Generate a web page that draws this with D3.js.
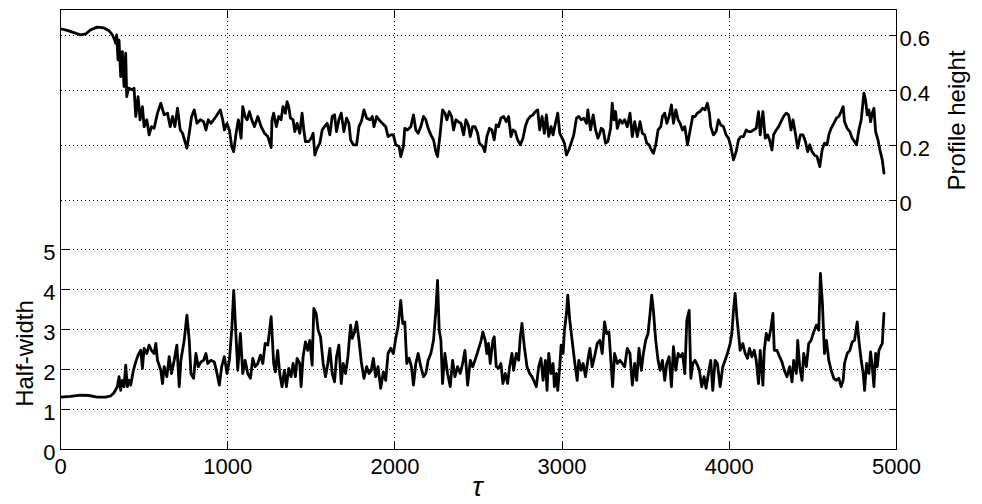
<!DOCTYPE html>
<html><head><meta charset="utf-8">
<script src="https://cdn.jsdelivr.net/npm/d3@7"></script>
<style>
html,body{margin:0;padding:0;background:#fff;}
svg{display:block;}
text{font-family:"Liberation Sans",Arial,Helvetica,sans-serif;fill:#000;}
</style></head><body>
<svg id="chart" width="982" height="504"></svg>
<script>
// ---- data ----
const xTicks = [0, 1000, 2000, 3000, 4000, 5000];
const halfWidthTicks = [0, 1, 2, 3, 4, 5];
const heightTicks = [0, 0.2, 0.4, 0.6];
const xLabel = "τ";
const leftLabel = "Half-width";
const rightLabel = "Profile height";

// [tau, profile height]
const heightSeries = [
[0,.626],[40,.620],[80,.612],[120,.604],[150,.607],[180,.622],[220,.632],[260,.629],[290,.619],[310,.604],[324,.585],[330,.573],[336,.604],[344,.513],[350,.585],[360,.452],[370,.543],[380,.416],[390,.537],[396,.379],[406,.410],[430,.404],[440,.410],[450,.307],[464,.379],[476,.295],[490,.343],[500,.270],[516,.295],[530,.240],[544,.270],[560,.264],[580,.319],[600,.355],[620,.313],[640,.319],[656,.270],[670,.307],[684,.270],[700,.337],[716,.258],[730,.246],[756,.192],[770,.246],[784,.307],[800,.331],[816,.282],[836,.295],[856,.288],[870,.258],[884,.295],[900,.282],[916,.295],[930,.307],[956,.331],[970,.295],[980,.258],[996,.282],[1010,.258],[1024,.198],[1036,.179],[1050,.246],[1064,.295],[1080,.228],[1090,.343],[1104,.307],[1116,.295],[1130,.325],[1144,.295],[1160,.270],[1180,.307],[1200,.270],[1220,.246],[1240,.234],[1260,.194],
[1265,.295],[1275,.319],[1291,.270],[1305,.307],[1319,.295],[1331,.343],[1345,.319],[1355,.361],[1365,.343],[1375,.301],[1391,.295],[1401,.252],[1415,.282],[1431,.246],[1445,.319],[1455,.258],[1465,.216],[1485,.216],[1499,.228],[1511,.246],[1521,.167],[1535,.192],[1551,.210],[1565,.258],[1579,.270],[1595,.282],[1611,.240],[1625,.307],[1639,.313],[1651,.252],[1665,.295],[1679,.319],[1695,.252],[1711,.301],[1725,.282],[1735,.222],[1751,.204],[1771,.204],[1785,.270],[1799,.288],[1815,.331],[1831,.301],[1851,.295],[1865,.307],[1875,.270],[1891,.307],[1905,.295],[1925,.282],[1945,.270],[1959,.234],[1975,.240],[1991,.240],[2005,.204],[2025,.198],[2035,.161],[2051,.198],[2059,.264],[2075,.258],[2095,.270],[2111,.313],[2125,.258],[2139,.246],[2155,.270],[2171,.307],[2185,.295],[2199,.264],[2215,.240],[2231,.222],[2245,.179],[2255,.161],[2271,.246],[2285,.331],[2299,.319],[2311,.295],[2325,.325],[2339,.307],[2351,.258],[2365,.295],[2379,.288],[2395,.282],[2411,.240],[2425,.295],[2439,.276],[2451,.234],[2465,.270],[2479,.270],[2495,.246],[2505,.210],
[2526,.198],[2538,.179],[2550,.234],[2566,.264],[2580,.258],[2594,.222],[2606,.276],[2620,.270],[2634,.301],[2650,.307],[2666,.288],[2680,.307],[2694,.234],[2706,.258],[2720,.252],[2734,.222],[2750,.204],[2766,.228],[2780,.270],[2794,.295],[2810,.307],[2826,.313],[2840,.325],[2854,.331],[2866,.258],[2880,.307],[2894,.246],[2906,.313],[2920,.234],[2934,.270],[2946,.240],[2960,.282],[2974,.319],[2986,.246],[3000,.228],[3014,.210],[3026,.167],[3040,.185],[3054,.210],[3070,.240],[3086,.301],[3100,.307],[3114,.295],[3130,.301],[3146,.282],[3154,.331],[3170,.258],[3186,.313],[3200,.258],[3214,.228],[3226,.246],[3234,.264],[3246,.258],[3260,.210],[3274,.216],[3290,.264],[3300,.355],[3310,.295],[3320,.325],[3330,.264],[3346,.295],[3360,.282],[3374,.295],[3390,.270],[3406,.319],[3420,.234],[3434,.288],[3450,.234],[3466,.288],[3480,.246],[3494,.240],[3506,.210],[3520,.204],[3534,.185],[3546,.173],[3560,.204],[3574,.258],[3590,.270],[3600,.307],[3614,.319],[3626,.282],[3640,.307],[3654,.349],[3666,.282],[3680,.331],[3694,.295],[3706,.282],[3720,.258],[3734,.270],[3750,.204],[3766,.258],
[3781,.307],[3795,.307],[3809,.319],[3825,.325],[3841,.337],[3855,.331],[3869,.355],[3881,.319],[3889,.270],[3905,.240],[3921,.252],[3935,.295],[3949,.276],[3965,.270],[3981,.240],[3995,.228],[4009,.198],[4025,.149],[4041,.179],[4055,.222],[4069,.234],[4085,.234],[4101,.258],[4115,.252],[4129,.252],[4145,.258],[4161,.264],[4175,.325],[4185,.240],[4201,.325],[4215,.228],[4229,.240],[4241,.222],[4255,.185],[4265,.240],[4281,.258],[4295,.270],[4309,.288],[4325,.307],[4341,.319],[4355,.313],[4369,.258],[4381,.295],[4395,.246],[4409,.192],[4425,.240],[4441,.240],[4455,.216],[4469,.179],[4481,.204],[4495,.179],[4509,.167],[4525,.161],[4541,.125],[4555,.185],[4569,.210],[4585,.204],[4595,.240],[4609,.264],[4625,.282],[4641,.301],[4655,.307],[4669,.325],[4681,.343],[4689,.288],[4705,.264],[4721,.252],[4735,.228],[4749,.216],[4761,.204],[4775,.258],[4789,.295],[4805,.392],[4815,.367],[4825,.313],[4835,.331],[4845,.288],[4855,.319],[4865,.337],[4875,.252],[4889,.222],[4901,.185],[4915,.149],[4925,.101]
];

// [tau, half-width]
const halfWidthSeries = [
[0,1.31],[60,1.33],[120,1.36],[170,1.35],[220,1.31],[270,1.31],[300,1.34],[320,1.42],[340,1.57],[350,1.82],[360,1.48],[370,1.73],[380,1.57],[390,2.11],[400,1.57],[410,1.73],[420,1.61],[436,1.98],[450,2.19],[464,2.36],[480,2.48],[490,2.03],[500,2.53],[516,2.40],[530,2.61],[544,2.48],[560,2.40],[570,2.65],[580,2.23],[600,1.98],[610,1.65],[620,2.07],[636,1.82],[650,2.32],[664,1.90],[680,2.23],[696,2.61],[710,1.57],[720,2.23],[740,2.73],[756,3.36],[770,2.73],[780,1.90],[796,1.78],[810,2.40],[824,2.07],[840,2.19],[856,2.23],[870,2.40],[880,2.15],[900,2.23],[920,2.19],[936,1.90],[950,1.61],[964,2.07],[980,2.32],[996,1.90],[1010,2.23],[1024,2.98],[1036,3.98],[1050,2.82],[1060,1.98],[1076,2.90],[1090,1.90],[1104,2.23],[1120,1.90],[1136,1.78],[1150,2.28],[1164,2.07],[1180,2.15],[1196,2.36],[1210,2.15],[1224,2.65],[1240,2.61],[1260,3.32],
[1275,2.15],[1285,1.94],[1299,2.48],[1311,1.90],[1325,1.57],[1339,1.98],[1351,1.57],[1365,2.03],[1379,1.82],[1391,2.15],[1405,1.82],[1415,2.28],[1431,2.15],[1439,1.57],[1451,2.32],[1465,2.69],[1479,2.48],[1491,2.73],[1505,2.11],[1515,3.53],[1529,3.40],[1541,2.98],[1555,2.82],[1571,2.15],[1585,1.82],[1599,2.15],[1611,2.53],[1625,1.90],[1639,1.69],[1651,2.32],[1665,2.61],[1679,1.65],[1691,2.15],[1705,1.90],[1719,2.32],[1735,3.11],[1745,2.78],[1759,2.94],[1771,3.19],[1785,2.73],[1799,2.19],[1815,1.78],[1831,2.07],[1845,1.90],[1859,1.98],[1871,2.28],[1885,1.82],[1899,2.07],[1915,1.53],[1931,1.94],[1945,1.73],[1959,2.40],[1975,2.53],[1991,2.40],[2005,2.78],[2019,3.07],[2035,3.73],[2047,3.15],[2059,3.19],[2071,2.15],[2085,2.28],[2099,2.07],[2111,1.61],[2125,2.15],[2139,2.40],[2155,2.07],[2171,1.82],[2185,1.90],[2199,2.23],[2215,2.40],[2231,2.73],[2245,3.48],[2255,4.23],[2265,2.98],[2275,2.73],[2285,1.65],[2299,2.40],[2315,1.90],[2331,1.57],[2345,2.23],[2359,1.82],[2375,2.07],[2391,1.90],[2405,2.15],[2419,2.48],[2435,1.61],[2451,2.23],[2465,2.07],[2479,2.23],[2495,2.44],
[2516,2.73],[2526,2.94],[2540,2.73],[2550,2.40],[2560,2.65],[2570,2.15],[2586,2.73],[2594,2.82],[2606,2.07],[2620,2.03],[2634,2.15],[2646,1.65],[2660,1.90],[2674,1.65],[2686,2.07],[2700,2.40],[2710,1.98],[2726,2.40],[2740,2.23],[2750,2.82],[2760,3.15],[2774,2.57],[2790,2.07],[2806,1.90],[2820,1.82],[2834,1.69],[2846,1.57],[2860,2.07],[2874,2.28],[2886,1.73],[2900,2.23],[2910,1.48],[2920,2.40],[2934,1.90],[2946,2.15],[2954,1.57],[2966,1.90],[2974,1.48],[2986,2.07],[2994,2.61],[3006,2.40],[3014,2.98],[3026,3.40],[3034,3.86],[3046,3.23],[3060,2.73],[3074,2.23],[3090,1.73],[3100,2.23],[3114,1.98],[3126,2.15],[3140,1.82],[3154,2.23],[3166,2.53],[3180,2.07],[3194,2.32],[3210,2.65],[3226,2.73],[3240,2.40],[3254,3.19],[3266,2.90],[3280,2.94],[3290,2.32],[3302,1.57],[3314,2.40],[3330,2.15],[3346,2.23],[3360,2.15],[3374,2.07],[3390,2.53],[3406,2.40],[3420,1.61],[3434,2.15],[3446,1.73],[3460,2.53],[3474,1.98],[3486,2.40],[3500,2.73],[3514,2.90],[3526,3.40],[3536,3.86],[3546,3.48],[3560,2.73],[3574,2.23],[3586,1.98],[3600,2.23],[3614,1.73],[3626,2.15],[3640,2.32],[3654,1.57],[3666,2.57],[3680,1.98],[3694,2.40],[3706,2.32],[3720,2.40],[3734,1.90],[3746,3.23],[3760,3.48],[3770,1.78],
[3781,2.15],[3795,2.23],[3809,2.11],[3821,1.98],[3835,1.57],[3849,1.82],[3861,1.53],[3875,1.90],[3889,2.23],[3901,1.48],[3915,2.23],[3929,2.15],[3945,1.57],[3961,2.07],[3975,2.23],[3989,2.40],[4005,2.65],[4015,2.90],[4025,3.48],[4035,3.90],[4045,3.32],[4055,2.90],[4065,2.48],[4081,2.65],[4095,2.40],[4109,2.28],[4121,2.53],[4135,2.32],[4149,2.48],[4161,2.23],[4175,1.65],[4185,2.48],[4201,1.61],[4209,2.48],[4221,2.90],[4235,2.73],[4249,3.03],[4261,3.40],[4269,2.48],[4285,2.48],[4301,2.32],[4315,2.19],[4329,1.98],[4345,1.82],[4361,2.07],[4375,1.69],[4385,2.23],[4401,1.90],[4409,2.73],[4421,2.07],[4435,1.73],[4445,2.40],[4461,2.07],[4475,2.65],[4489,2.73],[4505,2.94],[4521,3.11],[4535,2.98],[4545,4.40],[4557,3.65],[4569,2.40],[4581,2.73],[4595,2.23],[4609,1.98],[4625,1.78],[4641,1.73],[4655,1.78],[4669,1.57],[4681,1.73],[4689,2.15],[4705,2.40],[4721,2.48],[4735,2.69],[4749,2.73],[4765,3.19],[4775,2.73],[4789,2.23],[4801,1.90],[4809,1.48],[4821,2.15],[4835,1.90],[4845,2.44],[4855,2.07],[4865,1.57],[4875,2.40],[4885,2.07],[4895,2.48],[4905,2.57],[4915,2.65],[4925,3.40]
];

// ---- layout ----
const L = 60.5, R = 896.5, T = 9.5, B = 449.5;
const svg = d3.select("#chart");
svg.append("rect").attr("width", 982).attr("height", 504).attr("fill", "#fff");

const x = d3.scaleLinear().domain([0, 5000]).range([L, R]);
const yL = d3.scaleLinear().domain([0, 11]).range([B, T]);
const yR = d3.scaleLinear().domain([-0.904, 0.696]).range([B, T]);

const snap = v => Math.round(v - 0.5) + 0.5;

// grid
const grid = svg.append("g").attr("stroke", "#000").attr("stroke-width", 1)
  .attr("stroke-dasharray", "1,3").attr("shape-rendering", "crispEdges").attr("fill", "none");
xTicks.filter(t => t > 0 && t < 5000).forEach(t => {
  const px = snap(x(t));
  grid.append("line").attr("x1", px).attr("x2", px).attr("y1", B).attr("y2", T);
});
halfWidthTicks.filter(t => t > 0).forEach(t => {
  const py = snap(yL(t));
  grid.append("line").attr("x1", L).attr("x2", R).attr("y1", py).attr("y2", py);
});
heightTicks.forEach(t => {
  const py = snap(yR(t));
  grid.append("line").attr("x1", L).attr("x2", R).attr("y1", py).attr("y2", py);
});

// series
svg.append("clipPath").attr("id", "clip").append("rect")
  .attr("x", L).attr("y", T).attr("width", R - L).attr("height", B - T);
const lineH = d3.line().x(d => x(d[0])).y(d => yR(d[1]));
const lineW = d3.line().x(d => x(d[0])).y(d => yL(d[1]));
const gLines = svg.append("g").attr("clip-path", "url(#clip)");
gLines.append("path").datum(heightSeries).attr("d", lineH)
  .attr("fill", "none").attr("stroke", "#000").attr("stroke-width", 2.8)
  .attr("stroke-linejoin", "round").attr("stroke-linecap", "round");
gLines.append("path").datum(halfWidthSeries).attr("d", lineW)
  .attr("fill", "none").attr("stroke", "#000").attr("stroke-width", 2.8)
  .attr("stroke-linejoin", "round").attr("stroke-linecap", "round");

// box
svg.append("rect").attr("x", L).attr("y", T).attr("width", R - L).attr("height", B - T)
  .attr("fill", "none").attr("stroke", "#000").attr("stroke-width", 1).attr("shape-rendering", "crispEdges");

// ticks
const TL = 8;
const ticks = svg.append("g").attr("stroke", "#000").attr("stroke-width", 1).attr("shape-rendering", "crispEdges");
xTicks.forEach(t => {
  const px = snap(x(t));
  ticks.append("line").attr("x1", px).attr("x2", px).attr("y1", B).attr("y2", B - TL);
  ticks.append("line").attr("x1", px).attr("x2", px).attr("y1", T).attr("y2", T + TL);
});
halfWidthTicks.forEach(t => {
  const py = snap(yL(t));
  ticks.append("line").attr("x1", L).attr("x2", L + TL).attr("y1", py).attr("y2", py);
  ticks.append("line").attr("x1", R).attr("x2", R - TL).attr("y1", py).attr("y2", py);
});
heightTicks.forEach(t => {
  const py = snap(yR(t));
  ticks.append("line").attr("x1", R).attr("x2", R - TL).attr("y1", py).attr("y2", py);
});

// tick labels
const FS = 22;
const labels = svg.append("g").attr("font-size", FS);
xTicks.forEach(t => {
  labels.append("text").attr("x", x(t)).attr("y", B + 24).attr("text-anchor", "middle").text(d3.format("d")(t));
});
halfWidthTicks.forEach(t => {
  labels.append("text").attr("x", L - 5).attr("y", yL(t) + 10).attr("text-anchor", "end").text(d3.format("d")(t));
});
heightTicks.forEach(t => {
  labels.append("text").attr("x", R + 3).attr("y", yR(t) + 10.5).attr("text-anchor", "start").text(t === 0 ? "0" : d3.format(".1f")(t));
});

// axis titles
svg.append("text").attr("font-size", 24).attr("text-anchor", "middle")
  .attr("transform", `translate(33,${(yL(0) + yL(5)) / 2 + 4}) rotate(-90)`).text(leftLabel);
svg.append("text").attr("font-size", 24).attr("text-anchor", "middle")
  .attr("transform", `translate(965,${(yR(0) + yR(0.6)) / 2 + 2}) rotate(-90)`).text(rightLabel);
svg.append("text").attr("font-size", 28).attr("font-style", "italic")
  .attr("font-family", "'DejaVu Serif','Liberation Serif',serif")
  .attr("text-anchor", "middle").attr("x", (L + R) / 2 - 1).attr("y", 496).text(xLabel);
</script>
</body></html>
